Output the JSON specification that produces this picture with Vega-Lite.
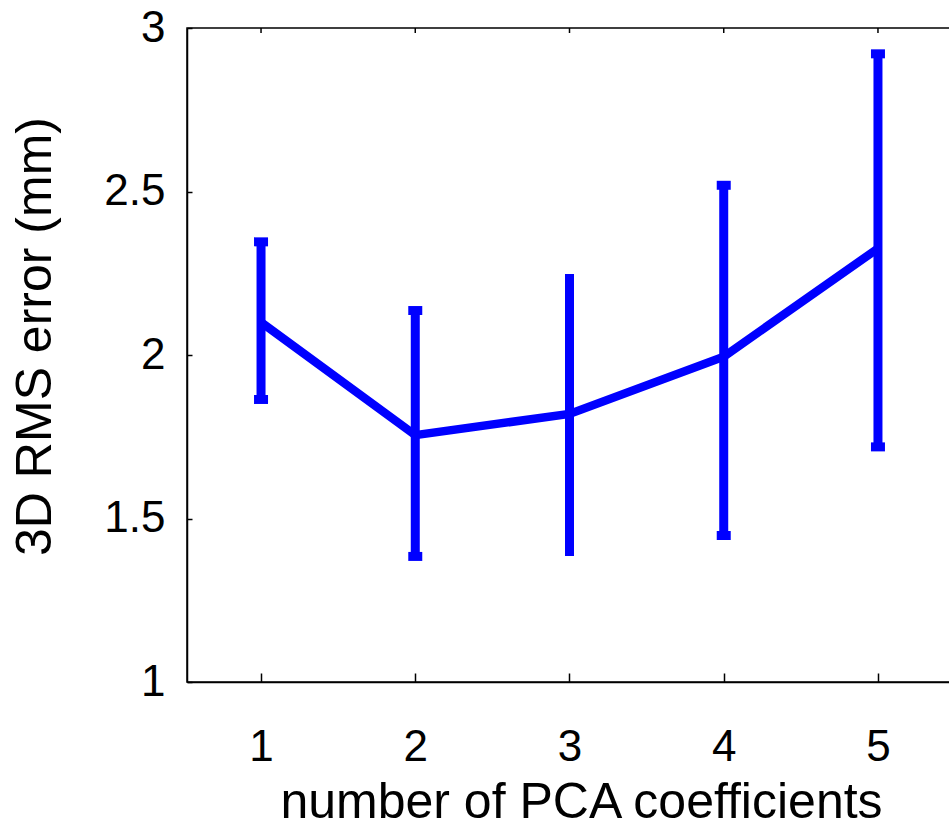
{
  "$schema": "https://vega.github.io/schema/vega-lite/v6.json",
  "autosize": {"type": "none"},
  "padding": {"left": 187, "top": 28, "right": 0, "bottom": 153},
  "width": 765,
  "height": 654,
  "background": "white",
  "config": {
    "view": {"stroke": "#000000", "strokeWidth": 1.5},
    "font": "Liberation Sans",
    "axis": {
      "domainColor": "#000000",
      "domainWidth": 1.5,
      "tickColor": "#000000",
      "tickWidth": 1.5,
      "grid": false,
      "labelColor": "#000000",
      "titleColor": "#000000",
      "labelFontSize": 44,
      "titleFontSize": 50,
      "titleFontWeight": "normal",
      "labelFlush": false,
      "labelOverlap": false
    }
  },
  "data": {
    "values": [
      {"n": 1, "mean": 2.100, "lo": 1.864, "hi": 2.346, "cap": true},
      {"n": 2, "mean": 1.755, "lo": 1.384, "hi": 2.136, "cap": true},
      {"n": 3, "mean": 1.820, "lo": 1.385, "hi": 2.248, "cap": false},
      {"n": 4, "mean": 1.995, "lo": 1.448, "hi": 2.519, "cap": true},
      {"n": 5, "mean": 2.326, "lo": 1.719, "hi": 2.921, "cap": true}
    ]
  },
  "layer": [
    {
      "mark": {"type": "rule", "color": "#0000ff", "strokeWidth": 9},
      "encoding": {
        "x": {
          "field": "n", "type": "quantitative",
          "scale": {"domain": [0.52, 5.48], "nice": false, "zero": false},
          "axis": {
            "orient": "bottom",
            "values": [1, 2, 3, 4, 5],
            "format": "d",
            "tickSize": -9,
            "labelPadding": 87,
            "labelBaseline": "alphabetic",
            "title": "number of PCA coefficients",
            "titleX": 394,
            "titleY": 135,
            "titleBaseline": "alphabetic"
          }
        },
        "y": {
          "field": "lo", "type": "quantitative",
          "scale": {"domain": [1, 3], "nice": false, "zero": false},
          "axis": {
            "orient": "left",
            "values": [1, 1.5, 2, 2.5, 3],
            "format": "~g",
            "tickSize": -5,
            "labelPadding": 27,
            "labelBaseline": "middle",
            "title": "3D RMS error (mm)",
            "titleAngle": 270,
            "titleX": -137,
            "titleY": 308,
            "titleBaseline": "alphabetic"
          }
        },
        "y2": {"field": "hi"}
      }
    },
    {
      "mark": {"type": "line", "color": "#0000ff", "strokeWidth": 8.5},
      "encoding": {
        "x": {"field": "n", "type": "quantitative"},
        "y": {"field": "mean", "type": "quantitative"}
      }
    },
    {
      "transform": [{"filter": "datum.cap"}],
      "mark": {"type": "tick", "orient": "horizontal", "color": "#0000ff", "size": 14, "thickness": 9, "opacity": 1},
      "encoding": {
        "x": {"field": "n", "type": "quantitative"},
        "y": {"field": "lo", "type": "quantitative"}
      }
    },
    {
      "transform": [{"filter": "datum.cap"}],
      "mark": {"type": "tick", "orient": "horizontal", "color": "#0000ff", "size": 14, "thickness": 9, "opacity": 1},
      "encoding": {
        "x": {"field": "n", "type": "quantitative"},
        "y": {"field": "hi", "type": "quantitative"}
      }
    },
    {
      "mark": {"type": "tick", "orient": "vertical", "color": "#000000", "size": 10, "thickness": 1.5, "opacity": 1, "clip": true},
      "encoding": {
        "x": {"field": "n", "type": "quantitative"},
        "y": {"datum": 3, "type": "quantitative"}
      }
    }
  ]
}
